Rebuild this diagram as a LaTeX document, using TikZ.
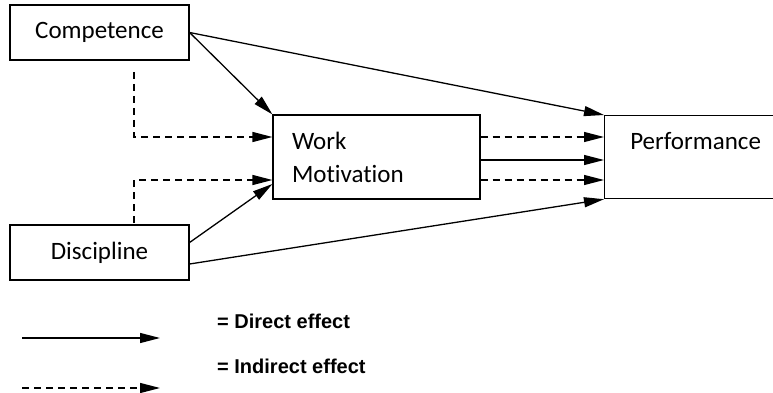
\documentclass[tikz,border=0pt]{standalone}
\usepackage{fontspec}
\setmainfont{Carlito}[Ligatures=NoCommon]
\newfontfamily\legendfont{Liberation Sans}
\usetikzlibrary{shapes,arrows,positioning,calc,arrows.meta}

\begin{document}
\begin{tikzpicture}[x=1pt, y=-1pt,
    block/.style={rectangle, draw, line width=1.2pt, minimum height=55pt, minimum width=179pt, inner sep=0pt, font=\fontsize{25}{33}\selectfont},
    arrow/.style={-{Triangle[length=20pt,width=10pt]}, line width=1.3pt},
    dasharrow/.style={arrow, dash pattern=on 7pt off 5pt},
    legend/.style={anchor=west, inner sep=0pt, font=\legendfont\bfseries\fontsize{20}{22}\selectfont}]

    \useasboundingbox (0,0) rectangle (773,393);

    \node[block] (comp) at (99.5,32.5) {Competence};
    \node[block] (disc) at (99.5,252.5) {Discipline};
    \node[block, minimum width=207pt, minimum height=84pt, text width=169pt, align=left] (wm) at (376.5,157) {Work\\Motivation};
    \node[block, anchor=north west, minimum width=182pt, text height=34pt, text depth=49pt] (perf) at (604,115) {Performance};

    % direct effects
    \draw[arrow] (comp.east) -- (perf.north west);
    \draw[arrow] (comp.east) -- (wm.north west);
    \draw[arrow] ([yshift=10pt]disc.east) -- ([yshift=-27pt]wm.west);
    \draw[arrow] ([yshift=-11.5pt]disc.east) -- (perf.south west);
    \draw[arrow] ([yshift=-3pt]wm.east) -- ([yshift=-3pt]wm.east -| perf.west);

    % indirect effects
    \coordinate (cstart) at (134,72);
    \coordinate (dstart) at (134,223);
    \draw[dasharrow] (cstart) |- ([yshift=20pt]wm.west);
    \draw[dasharrow] (dstart) |- ([yshift=-23pt]wm.west);
    \draw[dasharrow] ([yshift=20pt]wm.east) -- ([yshift=20pt]wm.east -| perf.west);
    \draw[dasharrow] ([yshift=-23pt]wm.east) -- ([yshift=-23pt]wm.east -| perf.west);

    % legend
    \coordinate (ds) at (22,338);
    \coordinate (de) at (160,338);
    \coordinate (is) at (22,388);
    \coordinate (ie) at (160,388);
    \draw[arrow] (ds) -- (de);
    \draw[dasharrow] (is) -- (ie);
    \node[legend] (direct) at (217,321) {= Direct effect};
    \node[legend] (indirect) at (217,366) {= Indirect effect};
\end{tikzpicture}
\end{document}
